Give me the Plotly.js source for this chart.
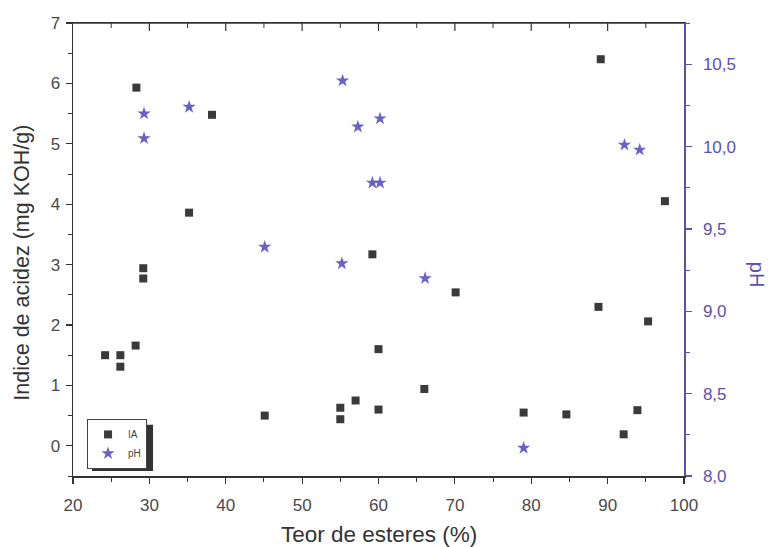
<!DOCTYPE html>
<html>
<head>
<meta charset="utf-8">
<script src="https://cdn.plot.ly/plotly-3.0.1.min.js"></script>
<style>
html,body{margin:0;padding:0;background:#fff;}
#chart{width:768px;height:547px;}
</style>
</head>
<body>
<div id="chart"></div>
<script>
// IA (indice de acidez) data
const iaEsteres = [24.2, 26.2, 26.2, 28.2, 28.3, 29.2, 29.2, 35.2, 38.2, 45.1, 55.0, 55.0, 57.0, 59.2, 60.0, 60.0, 66.0, 70.1, 79.0, 84.6, 88.8, 89.1, 92.1, 93.9, 95.3, 97.5];
const iaValues  = [1.50, 1.50, 1.31, 1.66, 5.93, 2.94, 2.77, 3.86, 5.48, 0.50, 0.63, 0.44, 0.75, 3.17, 0.60, 1.60, 0.94, 2.54, 0.55, 0.52, 2.30, 6.40, 0.19, 0.59, 2.06, 4.05];
// pH data
const phEsteres = [29.3, 29.3, 35.2, 45.1, 55.3, 55.2, 57.3, 59.2, 60.2, 60.2, 66.1, 79.0, 92.2, 94.2];
const phValues  = [10.20, 10.05, 10.24, 9.39, 10.40, 9.29, 10.12, 9.78, 9.78, 10.17, 9.20, 8.17, 10.01, 9.98];
// top (mirrored) axis tick values, drawn pointing inward
const topMajorTicks = [30, 40, 50, 60, 70, 80, 90];
const topMinorTicks = [25, 35, 45, 55, 65, 75, 85, 95];

const xTitle = 'Teor de esteres (%)';
const yTitle = 'Indice de acidez (mg KOH/g)';
const y2Title = 'pH';

const axisGray = '#333333';
const labelGray = '#4a4a4a';
const purple = '#5b50b4';
const fontFam = 'Liberation Sans, Arial, sans-serif';

const H = 547, T = 23, B = 71;
const plotH = H - T - B;

const traces = [
  {
    x: iaEsteres, y: iaValues, name: 'IA', type: 'scatter', mode: 'markers',
    marker: {symbol: 'square', size: 8, color: '#3a3a3a'},
    xaxis: 'x', yaxis: 'y'
  },
  {
    x: phEsteres, y: phValues, name: 'pH', type: 'scatter', mode: 'markers',
    marker: {symbol: 'star', size: 10, color: '#6a61c6', line: {width: 0}},
    xaxis: 'x', yaxis: 'y2'
  }
];

const frameShapes = [
  {
    type: 'line', xref: 'paper', yref: 'paper', x0: 0, x1: 1, y0: 1, y1: 1,
    line: {color: axisGray, width: 1.5}
  }
];
topMajorTicks.forEach(v => frameShapes.push({
  type: 'line', xref: 'x', yref: 'paper', x0: v, x1: v, y0: 1, y1: 1 - 8 / plotH,
  line: {color: axisGray, width: 1.2}
}));
topMinorTicks.forEach(v => frameShapes.push({
  type: 'line', xref: 'x', yref: 'paper', x0: v, x1: v, y0: 1, y1: 1 - 5 / plotH,
  line: {color: axisGray, width: 1}
}));

const layout = {
  width: 768, height: H,
  margin: {l: 73, r: 84, t: T, b: B},
  paper_bgcolor: '#ffffff', plot_bgcolor: '#ffffff',
  separators: ',.',
  font: {family: fontFam, color: axisGray, size: 14},
  showlegend: true,
  legend: {
    x: 0.023, y: 0.126, xanchor: 'left', yanchor: 'top',
    bgcolor: '#ffffff', bordercolor: '#444', borderwidth: 1,
    font: {size: 10, color: '#444'},
    tracegroupgap: 0, itemwidth: 30
  },
  xaxis: {
    range: [20, 100], dtick: 10, tick0: 20,
    showline: true, mirror: true, linecolor: axisGray, linewidth: 1.5,
    ticks: 'outside', ticklen: 6, tickwidth: 1.2, tickcolor: axisGray,
    minor: {dtick: 5, ticks: 'outside', ticklen: 4, tickcolor: axisGray, tickwidth: 1},
    showgrid: false, zeroline: false,
    ticklabelstandoff: 7,
    tickfont: {size: 17, color: labelGray}
  },
  yaxis: {
    range: [-0.5, 7], dtick: 1, tick0: 0,
    showline: true, linecolor: axisGray, linewidth: 1.5,
    ticks: 'outside', ticklen: 6, tickwidth: 1.2, tickcolor: axisGray,
    minor: {dtick: 0.5, ticks: 'outside', ticklen: 4, tickcolor: axisGray, tickwidth: 1},
    showgrid: false, zeroline: false,
    ticklabelstandoff: 2,
    tickfont: {size: 17, color: labelGray}
  },
  yaxis2: {
    range: [8, 10.75], dtick: 0.5, tick0: 8, overlaying: 'y', side: 'right', anchor: 'x',
    tickformat: '.1f',
    showline: true, linecolor: purple, linewidth: 1.5,
    ticks: 'outside', ticklen: 6, tickwidth: 1.2, tickcolor: purple,
    minor: {dtick: 0.25, ticks: 'outside', ticklen: 4, tickcolor: purple, tickwidth: 1},
    showgrid: false, zeroline: false,
    ticklabelstandoff: 8,
    tickfont: {size: 17, color: purple}
  },
  annotations: [
    {
      text: xTitle, xref: 'paper', yref: 'paper', x: 0.5007, y: -0.1302,
      xanchor: 'center', yanchor: 'middle', showarrow: false,
      font: {size: 22.5, color: '#333'}
    },
    {
      text: yTitle, xref: 'paper', yref: 'paper', x: -0.0841, y: 0.470,
      xanchor: 'center', yanchor: 'middle', textangle: -90, showarrow: false,
      font: {size: 21.5, color: '#333'}
    },
    {
      text: y2Title, xref: 'paper', yref: 'paper', x: 1.1195, y: 0.444,
      xanchor: 'center', yanchor: 'middle', textangle: 90, showarrow: false,
      font: {size: 20, color: purple}
    }
  ],
  shapes: [
    {
      type: 'rect', xref: 'paper', yref: 'paper', layer: 'below',
      x0: 0.031, x1: 0.131, y0: 0.011, y1: 0.113,
      fillcolor: '#333333', line: {width: 0}
    }
  ].concat(frameShapes)
};

Plotly.newPlot('chart', traces, layout, {displayModeBar: false, staticPlot: true});
</script>
</body>
</html>
